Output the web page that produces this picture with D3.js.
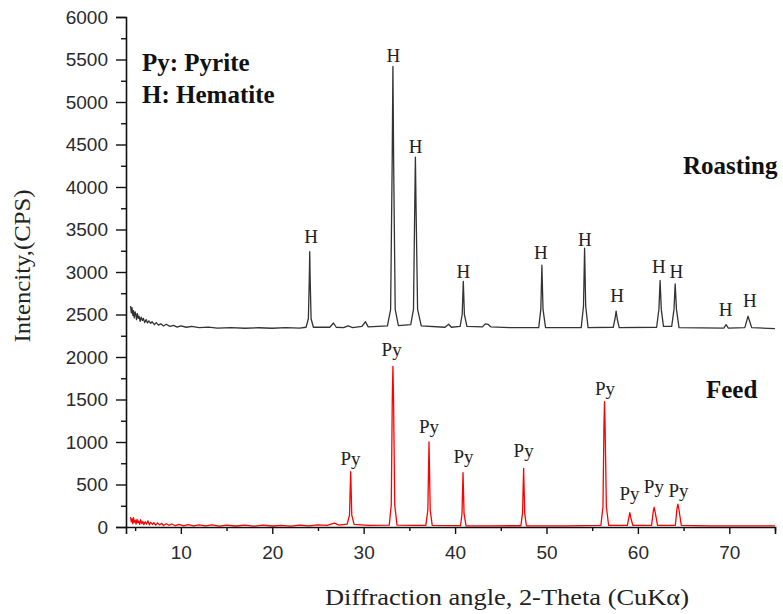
<!DOCTYPE html>
<html>
<head>
<meta charset="utf-8">
<script src="https://cdn.jsdelivr.net/npm/d3@7"></script>
<style>
  body { margin: 0; background: #fff; }
  svg { display: block; }
</style>
</head>
<body>
<div id="chart"></div>
<script>
// values: [2-theta, intensity]
var roasting = [
  [4.5, 2600], [4.58, 2520], [4.66, 2580], [4.75, 2490], [4.82, 2545], [4.9, 2460],
  [5.0, 2530], [5.08, 2500], [5.15, 2440], [5.25, 2510], [5.35, 2455], [5.42, 2480],
  [5.55, 2420], [5.65, 2470], [5.8, 2430], [5.9, 2455], [6.05, 2405], [6.2, 2440],
  [6.35, 2400], [6.5, 2425], [6.7, 2395], [6.85, 2415], [7.1, 2380], [7.3, 2405],
  [7.55, 2375], [7.8, 2390], [8.1, 2365], [8.4, 2385], [8.8, 2360], [9.2, 2372],
  [9.6, 2352], [10.0, 2366], [10.6, 2350], [11.2, 2360], [12.0, 2345],
  [13.0, 2352], [14.0, 2340], [15.5, 2346], [17.0, 2338], [18.5, 2344], [20.0, 2338],
  [21.5, 2345], [23.0, 2340], [23.7, 2350], [23.95, 2450], [24.05, 2900], [24.1, 3240],
  [24.15, 2900], [24.25, 2450], [24.5, 2350], [26.3, 2350], [26.7, 2400], [27.0, 2350],
  [27.8, 2345], [28.3, 2365], [28.8, 2345], [29.8, 2360], [30.2, 2415], [30.5, 2355],
  [32.6, 2365], [32.95, 2560], [33.12, 4300], [33.2, 5420], [33.28, 4300], [33.45, 2560],
  [33.8, 2370], [35.15, 2380], [35.45, 2560], [35.58, 3700], [35.66, 4350], [35.74, 3700],
  [35.9, 2560], [36.3, 2365], [38.9, 2350], [39.3, 2385], [39.6, 2350], [40.55, 2360],
  [40.78, 2500], [40.9, 2890], [41.02, 2500], [41.3, 2360], [43.0, 2355], [43.3, 2390],
  [43.6, 2385], [43.9, 2355], [46.0, 2345], [49.15, 2345], [49.38, 2560], [49.5, 3080],
  [49.62, 2560], [49.9, 2345], [53.8, 2345], [54.05, 2600], [54.17, 3280], [54.29, 2600],
  [54.55, 2345], [57.3, 2350], [57.5, 2450], [57.62, 2540], [57.74, 2450], [57.95, 2345],
  [62.05, 2350], [62.3, 2560], [62.43, 2900], [62.56, 2560], [62.8, 2360], [63.7, 2360],
  [63.95, 2560], [64.08, 2860], [64.22, 2560], [64.5, 2345], [69.4, 2340], [69.65, 2380],
  [69.9, 2340], [71.7, 2345], [71.92, 2430], [72.05, 2480], [72.2, 2430], [72.45, 2345],
  [75.0, 2335]
];

var feed = [
  [4.5, 115], [4.58, 60], [4.66, 95], [4.74, 40], [4.82, 110], [4.9, 55], [5.0, 80],
  [5.1, 35], [5.2, 90], [5.3, 50], [5.4, 70], [5.5, 30], [5.6, 85], [5.72, 40],
  [5.85, 65], [5.95, 28], [6.1, 60], [6.25, 35], [6.4, 72], [6.55, 25], [6.7, 55],
  [6.9, 30], [7.05, 50], [7.25, 22], [7.45, 48], [7.65, 25], [7.9, 42], [8.1, 18],
  [8.4, 38], [8.7, 20], [9.0, 35], [9.4, 15], [9.8, 30], [10.3, 14], [10.8, 28],
  [11.4, 12], [12.0, 26], [12.7, 12], [13.4, 24], [14.2, 10], [15.0, 22], [16.0, 12],
  [17.0, 22], [18.0, 10], [19.0, 22], [20.0, 12], [21.0, 20], [22.0, 10], [23.0, 22],
  [24.0, 14], [25.0, 26], [26.0, 18], [26.8, 45], [27.3, 22], [28.2, 35], [28.45, 140],
  [28.58, 650], [28.7, 140], [28.95, 30], [30.5, 20], [32.8, 22], [33.02, 260],
  [33.13, 1500], [33.2, 1890], [33.27, 1500], [33.4, 260], [33.65, 22], [35.5, 18],
  [36.8, 20], [37.02, 200], [37.15, 1000], [37.28, 200], [37.5, 20], [40.6, 15],
  [40.76, 160], [40.87, 640], [40.98, 160], [41.2, 15], [44.0, 14], [47.2, 15],
  [47.38, 160], [47.5, 690], [47.62, 160], [47.8, 15], [52.0, 14], [55.95, 18],
  [56.18, 240], [56.29, 1200], [56.35, 1475], [56.41, 1200], [56.55, 240], [56.8, 18],
  [58.85, 20], [59.05, 130], [59.12, 168], [59.22, 110], [59.45, 18], [61.5, 20],
  [61.68, 180], [61.78, 232], [61.9, 170], [62.15, 18], [64.1, 20], [64.28, 220],
  [64.38, 270], [64.5, 200], [64.75, 18], [68.0, 14], [75.0, 14]
];

// peak labels: [2-theta, intensity at label baseline]
var hLabels = [
  [24.25, 3338], [33.24, 5474], [35.69, 4404], [40.92, 2926], [49.39, 3153],
  [54.19, 3309], [57.73, 2644], [62.3, 2985], [64.2, 2926], [69.6, 2482], [72.24, 2592]
];
var pyLabels = [
  [28.56, 729], [33.06, 2012], [37.15, 1102], [40.92, 749], [47.5, 820],
  [56.41, 1553], [59.08, 318], [61.75, 396], [64.45, 356]
];

var xTicks = [10, 20, 30, 40, 50, 60, 70];
var xMinorTicks = [5, 15, 25, 35, 45, 55, 65, 75];
var yTicks = d3.range(0, 6001, 500);
var yMinorTicks = d3.range(250, 6000, 500);

var width = 783,
  height = 614;

var svg = d3.select("#chart")
  .append("svg")
  .attr("width", width)
  .attr("height", height);

var x = d3.scaleLinear().domain([4, 75]).range([126, 775]);
var y = d3.scaleLinear().domain([0, 6000]).range([527, 17]);

var line = d3.line()
  .x(function(d) { return x(d[0]); })
  .y(function(d) { return y(d[1]); });

svg.append("path")
  .datum(roasting)
  .attr("fill", "none")
  .attr("stroke", "#333")
  .attr("stroke-width", 1.3)
  .attr("stroke-linejoin", "round")
  .attr("d", line);

svg.append("path")
  .datum(feed)
  .attr("fill", "none")
  .attr("stroke", "#ff0000")
  .attr("stroke-width", 1.3)
  .attr("stroke-linejoin", "round")
  .attr("d", line);

// axes
var tickFont = "'Liberation Sans', Arial, sans-serif";

var yMinor = svg.append("g")
  .attr("transform", "translate(126,0)")
  .call(d3.axisLeft(y).tickValues(yMinorTicks).tickSize(5).tickFormat(""));
var yMajor = svg.append("g")
  .attr("transform", "translate(126,0)")
  .call(d3.axisLeft(y).tickValues(yTicks).tickSize(10).tickPadding(8).tickFormat(d3.format("d")));

var xMinor = svg.append("g")
  .attr("transform", "translate(0,527)")
  .call(d3.axisBottom(x).tickValues(xMinorTicks).tickSize(4).tickFormat(""));
var xMajor = svg.append("g")
  .attr("transform", "translate(0,527)")
  .call(d3.axisBottom(x).tickValues(xTicks).tickSize(7).tickPadding(12).tickFormat(d3.format("d")));

[yMinor, yMajor, xMinor, xMajor].forEach(function(g) {
  g.select(".domain").attr("stroke", "#111").attr("stroke-width", 1.6);
  g.selectAll(".tick line").attr("stroke", "#111").attr("stroke-width", 1.4);
  g.selectAll(".tick text")
    .attr("fill", "#2a2a2a")
    .style("font-family", tickFont)
    .style("font-size", "19px");
});
xMinor.select(".domain").remove();
yMinor.select(".domain").remove();

// peak labels
var serif = "'Liberation Serif', 'Times New Roman', serif";

svg.selectAll(".h-label")
  .data(hLabels)
  .enter().append("text")
  .attr("class", "h-label")
  .attr("x", function(d) { return x(d[0]); })
  .attr("y", function(d) { return y(d[1]); })
  .attr("text-anchor", "middle")
  .style("font-family", serif)
  .style("font-size", "19px")
  .attr("fill", "#222")
  .text("H");

svg.selectAll(".py-label")
  .data(pyLabels)
  .enter().append("text")
  .attr("class", "py-label")
  .attr("x", function(d) { return x(d[0]); })
  .attr("y", function(d) { return y(d[1]); })
  .attr("text-anchor", "middle")
  .style("font-family", serif)
  .style("font-size", "19px")
  .attr("fill", "#222")
  .text("Py");

// legend and series names
function boldText(tx, ty, str) {
  svg.append("text")
    .attr("x", tx)
    .attr("y", ty)
    .style("font-family", serif)
    .style("font-size", "25px")
    .style("font-weight", "bold")
    .attr("fill", "#111")
    .text(str);
}
boldText(142, 71, "Py: Pyrite");
boldText(142, 103, "H: Hematite");
boldText(683, 174, "Roasting");
boldText(706, 398, "Feed");

// axis titles
svg.append("text")
  .attr("x", 507)
  .attr("y", 605)
  .attr("text-anchor", "middle")
  .style("font-family", serif)
  .style("font-size", "23px")
  .attr("textLength", 364)
  .attr("lengthAdjust", "spacingAndGlyphs")
  .attr("fill", "#222")
  .text("Diffraction angle, 2-Theta (CuK\u03b1)");

svg.append("text")
  .attr("transform", "translate(30,266) rotate(-90)")
  .attr("text-anchor", "middle")
  .style("font-family", serif)
  .style("font-size", "23px")
  .attr("textLength", 153)
  .attr("lengthAdjust", "spacingAndGlyphs")
  .attr("fill", "#222")
  .text("Intencity,(CPS)");
</script>
</body>
</html>
